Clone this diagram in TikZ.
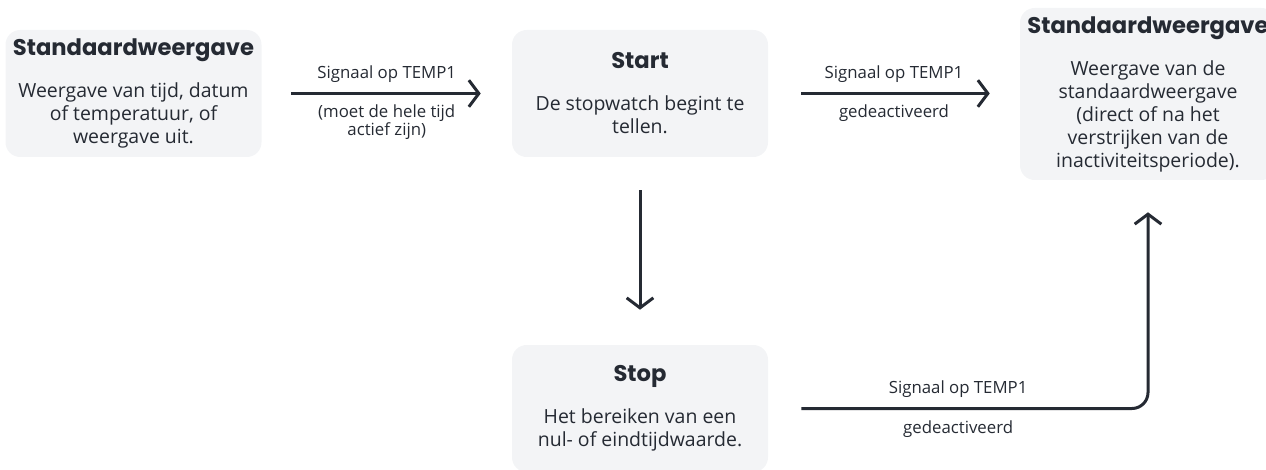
\documentclass[tikz,border=0pt]{standalone}
\usepackage{fontspec}
\setmainfont{Open Sans}
\newfontfamily\titlefont{Poppins}
\usetikzlibrary{arrows.meta,positioning}
\definecolor{boxgray}{HTML}{F3F4F6}
\definecolor{ink}{HTML}{252A33}

\begin{document}
\begin{tikzpicture}[x=0.75pt,y=-0.75pt,>={Straight Barb[length=7.5pt,width=20pt]},
    box/.style={fill=boxgray,rounded corners=11pt,minimum width=192pt,minimum height=95.25pt,
      align=center,text=ink,font=\fontsize{14.6}{17.25}\selectfont,inner sep=0pt},
    flow/.style={->,ink,line width=2.25pt},
    lbl/.style={text=ink,font=\fontsize{12.6}{13.8}\selectfont,align=center}]
  \useasboundingbox (0,0) rectangle (1266,470);
  % boxes
  \node[box] (std1) at (133.5,93.5) {{\titlefont\bfseries\fontsize{17}{17}\selectfont Standaardweergave}\\[14.25pt]
    Weergave van tijd, datum\\of temperatuur, of\\weergave uit.};
  \node[box] (start) at (640,93.5) {{\titlefont\bfseries\fontsize{17}{17}\selectfont Start}\\[14.25pt]
    De stopwatch begint te\\tellen.};
  \node[box,minimum height=129pt] (std2) at (1148,94) {{\titlefont\bfseries\fontsize{17}{17}\selectfont Standaardweergave}\\[14.25pt]
    Weergave van de\\standaardweergave\\(direct of na het\\verstrijken van de\\inactiviteitsperiode).};
  \node[box] (stop) at (640,408.5) {{\titlefont\bfseries\fontsize{17}{17}\selectfont Stop}\\[14.25pt]
    Het bereiken van een\\nul- of eindtijdwaarde.};
  % arrows
  \draw[flow,shorten <=21.75pt,shorten >=23.25pt] (std1.east) -- (start.west)
    node[lbl,midway,above=3.5pt] {Signaal op TEMP1}
    node[lbl,midway,below=4pt] {(moet de hele tijd\\actief zijn)};
  \draw[flow,shorten <=24.75pt,shorten >=22.5pt] (start.east) -- (std2.west |- start.east)
    node[lbl,midway,above=3.5pt] {Signaal op TEMP1}
    node[lbl,midway,below=4pt] {gedeactiveerd};
  \draw[flow,shorten <=24.75pt,shorten >=26.25pt] (start.south) -- (stop.north);
  \draw[flow,rounded corners=12pt,shorten <=24.75pt,shorten >=24pt] (stop.east) -- (stop.east -| std2.south)
    node[lbl,midway,above=3.5pt] {Signaal op TEMP1}
    node[lbl,midway,below=5pt] {gedeactiveerd} -- (std2.south);
\end{tikzpicture}
\end{document}
